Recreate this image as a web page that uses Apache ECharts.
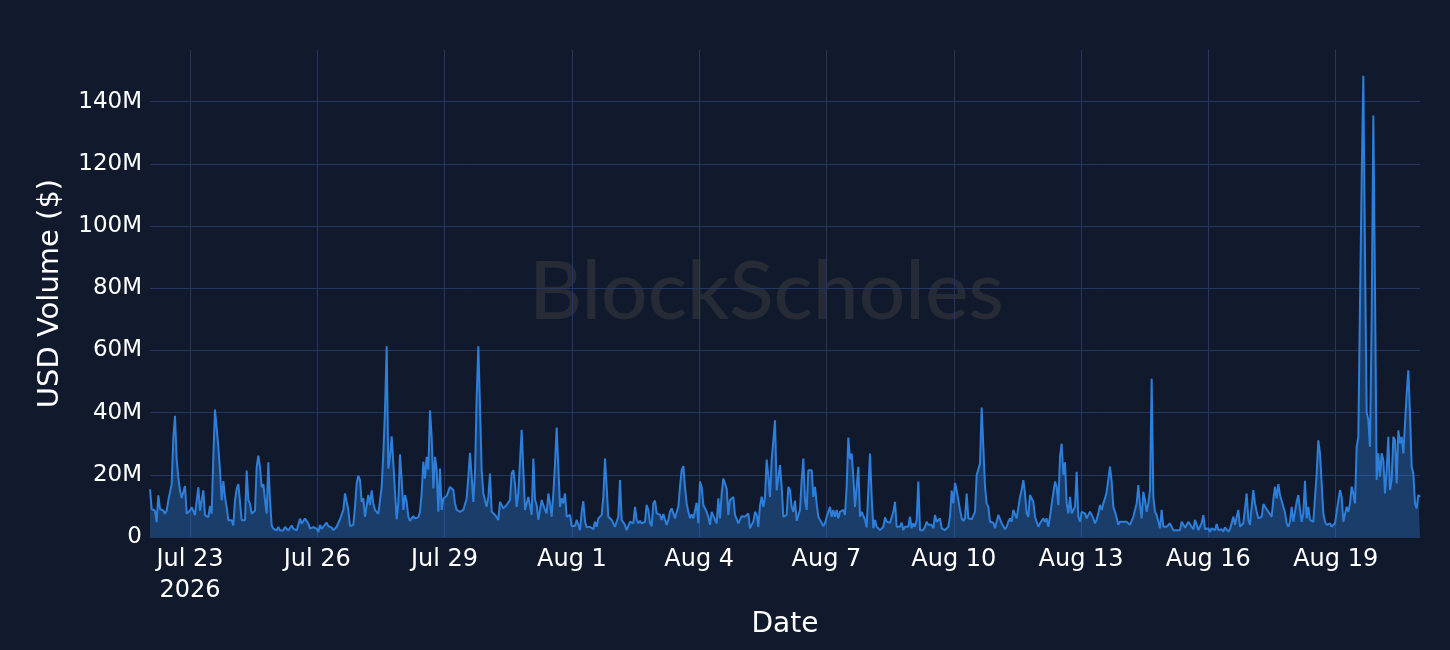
<!DOCTYPE html>
<html>
<head>
<meta charset="utf-8">
<script src="https://cdn.jsdelivr.net/npm/echarts@6/dist/echarts.min.js"></script>
<style>
html,body{margin:0;padding:0;background:#111a2d;}
#chart{width:1450px;height:650px;}
</style>
</head>
<body>
<div id="chart"></div>
<script>
// USD volume in millions, sampled evenly in time from startTime to endTime
const seg1 = [15.3,9,8.5,8.5,4.8,13.4,9,8.5,8.5,7.5,8.5,11.8,11.8,17,32,39,25,19,15,12.5,13,16.4,7.5,7.5,8.5,9.6,9,7,7.5,16,8.5,11.8,15,7,7,6.4,10,7.5,25.7,41,35,29,21.4,11.8,18,12.8,9.6,5.4,4.8,5.4,3.7,11.8,15.5,17,17,5.4,4.8,5.4,21.4,11.8,10.7,7.5,7,8.5,22.5,26.2,22.5,16,17,11.8,7.5,24,11.8,3.7,2.7,2.7,2.1,3.2,2.1,2.7,2.1,3.2,2.7,2.1,2.7,3.7,2.7,3.2,2.1,2.7,5.9,4.3,4.8,5.9,5.4,4.3,2.7,2.1,3.2,2.7,2.7,1.6];
const seg2 = [3.9,2.6,3.3,3.9,4.6,3.5,3.1,3.0,2.2,2.5,3.3,3.3,5.7,6.0,8.7,14,13.8,8.7,3.5,3.1,3.9,9.7,17.2,19.7,18.3,11.3,12.4,6.5,6.5,13.5,10.3,15,10.8,8.7,8.1,7.4,7.1,16.1,26.8,40.7,61.3,22,26,32.4,23.6,14.5,5.7,10.8,26.6,18.3,8.7,13.5,11.3,6.5,5.2,4.9,6.7,6.0,6.0,6.3,8.1,14,24.2,18.8,25.8,21.7,40.7,32.2,15.6,25.8,21.5,8.1,22.0,8.7,12.4,12.9,13.2,13.5,16.1,16.1,15.1,10.8,8.7,8.4,8.1,7.6,8.7,8.7,12.4,19.4,27.1,19.4,11.3,20.4,45,61.3,41.8,21.5,14,14,9.7,12.9];
const seg3 = [20.4,8.1,7.8,7.1,7.1,5.5,11.3,11.7,9.2,9.7,10.3,10.8,11.9,20.4,21.5,17.2,9.7,14,14,34.5,21.5,8.7,10.8,12.9,12.4,7.1,25.2,11.9,10.3,5.5,8.7,11.9,12.4,8.7,7.6,14,10.8,6.5,14,23.6,35.2,22.6,9.7,12.4,10.8,14,6.5,6.5,7.1,3.5,3.3,3.5,5.5,3.9,2.2,8,11.5,4.9,3.1,2.5,3.3,3.9,2.5,4.9,3.3,6.0,5.5,7.1,12.9,25.2,16.1,6.5,6.5,5.5,4.4,3.3,4.9,6.5,18.3,5.5,6.0,3.9,2.2,2.0,4.9,5.5,4.4,9.7,5.5,4.4,5.2,4.4,4.6,4.9,10.3,8.7,4.4,3.5,10.8,11.7,7.6,7.3];
const seg4 = [7.1,5.5,7.4,5.5,3.9,5.5,8.1,9.2,8.7,6.0,6.5,9.7,16.1,21.5,22.8,16.1,10.8,8.1,6.0,7.3,6.0,6.0,11.0,4.4,17.8,16.1,10.3,9.7,8.1,6.5,3.9,8.1,8.1,5.5,4.4,12.4,6.0,14,18.8,18.8,15.6,7.1,11.9,12.4,12.9,7.1,7.1,4.4,4.6,6.7,6.5,6.5,6.3,7.6,2.8,3.9,4.9,8.1,7.1,3.3,10,13,9.7,12.9,24.9,19.4,12.9,24.7,31.1,37.5,15,15,23.1,16.1,6.5,6.0,7.1,16.1,15.1,9.7,8.1,11.7,5.2,5.7,8.7,18.3,25.2,11.9,8.7,21.5,22.0,21.5,12.9,16.1,10.8,6.5,5.5,4.6,3.5,4.4,6.5,8.1];
const seg5 = [9.7,6.5,8.7,6.5,8.7,6.0,8.1,8.1,8.7,7.1,16.1,32,25,26.8,19.4,9.7,16.1,22.6,6.5,8.1,7.6,5.5,3.1,3.3,26.8,12.9,2.8,5.5,3.3,3.3,2.2,2.2,3.3,6.3,4.9,4.9,4.6,4.4,8.1,11.3,3.3,2.8,3.3,4.6,2.2,3.3,3.1,3.3,6.5,2.8,4.4,3.3,5.5,17.8,2.2,2.5,2.2,3.3,4.9,3.9,3.9,3.9,2.8,7.1,4.9,5.5,6.0,2.8,2.2,2.2,2.0,3.3,6.5,14.9,10.8,17.4,15.1,11.9,8.7,6.0,5.2,6.0,14,6.0,5.5,5.7,6.0,8.1,19.9,19.9,23.6,41.6,29,16.1,10.8,9.7,4.9,4.6,4.6,2.8,4.9,7.1];
const seg6 = [7.6,4.4,4.4,2.5,3.3,4.9,6.0,4.9,8.7,9.0,6.0,6.0,12.9,15.1,18.3,14,7.6,6.5,13.5,12.4,11.3,6.5,4.9,3.3,4.4,4.9,6.0,4.9,6.0,3.3,6.5,10.6,10.3,17.8,16.1,10.3,26,30,20,24,10.8,7.6,12.9,7.6,8.7,9.7,21.0,6.5,4.9,8.1,8.7,7.6,6.0,5.5,8.1,7.6,6.0,4.4,5.5,7.6,10.3,8.7,10.8,12.4,14.5,14.5,22.6,17.8,9.7,8.1,7.6,3.9,4.9,4.6,4.9,5.5,4.9,4.9,3.9,4.4,6.5,8.7,10.8,16.7,10.3,6.0,14.5,11.9,8.1,10.8,15.1,50.9,12.9,8.1,7.1,4.9,2.8,8.7,3.3,3.3,3.3,3.3];
const seg7 = [4.4,3.9,2.2,2.8,2.2,2.2,2.2,4.9,4.7,3.0,3.9,4.9,4.4,3.3,2.5,5.5,3.9,2.2,2.2,4.5,7,2.5,2.2,2.8,1.7,2.8,2.5,2.2,4.2,2.2,1.7,2.5,1.7,3.1,3.3,1.7,2.5,2.5,6.5,3.9,6.5,8.7,3.3,2.8,4.4,4.4,14,5.5,3.9,9.7,15.1,10.8,8.1,6.0,5.5,6.5,10.6,9.7,9.7,8.1,7.6,6.5,11.9,16.1,12.4,17.0,13.5,12.9,9.7,7.8,4.4,3.3,4.9,9.7,4.9,8.1,11.3,13.5,8.7,4.9,7.6,18.1,6.0,9.7,5.5,5.5,4.9,4.4,20.4,31.1,26.8,17.2,7.6,4.9,3.9,4.4,4.4,3.3,2.8,4.4,8.1,8.7];
const seg8 = [15.1,12.9,4.9,4.4,9.7,8.1,10.8,16.2,14,10.8,29,32.2,75,115,148.3,90,40,37.6,29,70,135.5,80,18.3,26.9,19.4,26.9,24.7,14,21.5,32.2,15.1,18.3,32.2,31.1,17.2,34.3,30.1,32.2,26.9,36.5,46.1,53.6,39.7,22.6,20.4,10.8,9.2,13.5,12.9];

const startTime = Date.UTC(2026, 6, 22, 1, 23);
const endTime = Date.UTC(2026, 7, 20, 23, 42);

const tickDates = ['2026-07-23','2026-07-26','2026-07-29','2026-08-01','2026-08-04','2026-08-07','2026-08-10','2026-08-13','2026-08-16','2026-08-19'];
const tickLabels = ['Jul 23\n2026','Jul 26','Jul 29','Aug 1','Aug 4','Aug 7','Aug 10','Aug 13','Aug 16','Aug 19'];
const yTicksM = [0,20,40,60,80,100,120,140];

const volumeM = [].concat(seg1, seg2, seg3, seg4, seg5, seg6, seg7, seg8);
const step = (endTime - startTime) / (volumeM.length - 1);
const seriesData = volumeM.map((v, i) => [startTime + i * step, v * 1e6]);
const tickTimes = tickDates.map(d => Date.parse(d + 'T00:00:00Z'));

const chart = echarts.init(document.getElementById('chart'), null, {renderer: 'canvas'});
const FONT = 'DejaVu Sans';
chart.setOption({
  backgroundColor: '#111a2d',
  animation: false,
  graphic: [{
    type: 'text',
    left: 529,
    top: 252,
    z: -10,
    silent: true,
    style: {
      text: 'BlockScholes',
      font: '500 82px Lato',
      fill: '#262b35'
    }
  }],
  grid: {left: 150, right: 30, top: 50, bottom: 113},
  xAxis: {
    type: 'value',
    min: startTime,
    max: endTime,
    name: 'Date',
    nameLocation: 'middle',
    nameGap: 72,
    nameTextStyle: {color: '#ffffff', fontSize: 28, fontFamily: FONT},
    axisLine: {show: false},
    axisTick: {show: false, customValues: tickTimes},
    axisLabel: {
      customValues: tickTimes,
      color: '#ffffff',
      fontSize: 24,
      fontFamily: FONT,
      lineHeight: 31,
      margin: 7,
      formatter: function (v) {
        const i = tickTimes.indexOf(v);
        return i >= 0 ? tickLabels[i] : '';
      }
    },
    splitLine: {show: true, lineStyle: {color: '#26375f', width: 1}}
  },
  yAxis: {
    type: 'value',
    min: 0,
    max: 156.6e6,
    interval: 20e6,
    name: 'USD Volume ($)',
    nameLocation: 'middle',
    nameGap: 85,
    nameRotate: 90,
    nameTextStyle: {color: '#ffffff', fontSize: 29, fontFamily: FONT},
    axisLine: {show: false},
    axisTick: {show: false},
    axisLabel: {
      color: '#ffffff',
      fontSize: 23,
      fontFamily: FONT,
      margin: 8,
      showMaxLabel: false,
      formatter: function (v) {
        const m = Math.round(v / 1e6);
        if (yTicksM.indexOf(m) < 0 || Math.abs(v / 1e6 - m) > 0.01) return '';
        return m === 0 ? '0' : m + 'M';
      }
    },
    splitLine: {show: true, showMaxLine: false, lineStyle: {color: '#26375f', width: 1}}
  },
  series: [{
    type: 'line',
    data: seriesData,
    showSymbol: false,
    symbol: 'none',
    lineStyle: {color: '#2e7fd9', width: 2},
    areaStyle: {color: 'rgba(46,127,217,0.5)'},
    z: 3
  }]
});
</script>
</body>
</html>
